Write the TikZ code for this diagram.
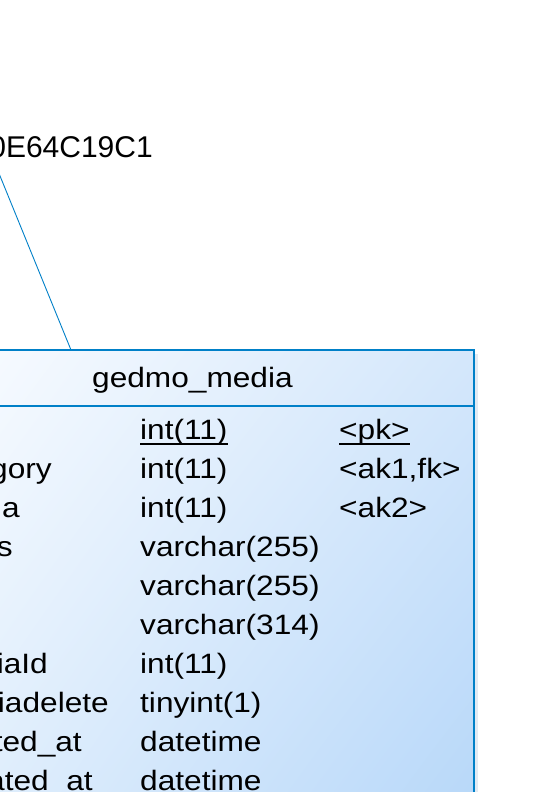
\documentclass[tikz,border=0pt]{standalone}
\usepackage{fontspec}
\setmainfont{Liberation Sans}
\usepackage{graphicx}
\usetikzlibrary{shadings}
\newcommand\tbltext[1]{\scalebox{1.13}[1]{#1}}
\definecolor{edge}{RGB}{0,128,200}
\definecolor{gUL}{RGB}{246,250,255}
\definecolor{gUR}{RGB}{212,231,251}
\definecolor{gLL}{RGB}{222,237,252}
\definecolor{gLR}{RGB}{184,216,249}
\definecolor{shadowc}{RGB}{226,234,243}
\tikzset{
  cell/.style={inner sep=0pt, anchor=base west, font=\fontsize{28}{28}\selectfont},
  cellr/.style={inner sep=0pt, anchor=base east, font=\fontsize{28}{28}\selectfont},
  lbl/.style={inner sep=0pt, anchor=base east, font=\fontsize{30}{30}\selectfont},
  uline/.style={line width=1.6pt},
  conn/.style={draw=edge, line width=0.9pt},
}
\begin{document}
\begin{tikzpicture}[x=1pt,y=-1pt]
\useasboundingbox (0,0) rectangle (543,792);
\clip (0,0) rectangle (543,792);
\fill[white] (0,0) rectangle (543,792);
% shadow
\fill[shadowc] (474,354) rectangle (477.5,800);
% table body
\shade[upper left=gUL, upper right=gUR, lower left=gLL, lower right=gLR] (-2,350) rectangle (474,800);
\draw[edge, line width=1.4pt] (-5,350) -- (474,350) -- (474,800);
\draw[edge, line width=1.4pt] (-5,406) -- (474,406);
\coordinate (top) at (71,350);
\coordinate (far) at (-2,171);
\draw[conn] (far) -- (top);
% label
\node[lbl] (fk) at (153,157) {0E64C19C1};
% header
\node[cell] (title) at (92,387) {\tbltext{gedmo\_media}};
% column 1 (cut)
\node[cellr] (n2) at (52,478) {\tbltext{gory}};
\node[cellr] (n3) at (20,517) {\tbltext{ia}};
\node[cellr] (n4) at (13,556) {\tbltext{s}};
\node[cellr] (n7) at (48,673) {\tbltext{iaId}};
\node[cellr] (n8) at (109,712) {\tbltext{iadelete}};
\node[cellr] (n9) at (82,751) {\tbltext{ted\_at}};
\node[cellr] (n10) at (93,790) {\tbltext{ated\_at}};
% column 2
\node[cell] (t1) at (140,439) {\tbltext{int(11)}};
\node[cell] (t2) at (140,478) {\tbltext{int(11)}};
\node[cell] (t3) at (140,517) {\tbltext{int(11)}};
\node[cell] (t4) at (140,556) {\tbltext{varchar(255)}};
\node[cell] (t5) at (140,595) {\tbltext{varchar(255)}};
\node[cell] (t6) at (140,634) {\tbltext{varchar(314)}};
\node[cell] (t7) at (140,673) {\tbltext{int(11)}};
\node[cell] (t8) at (140,712) {\tbltext{tinyint(1)}};
\node[cell] (t9) at (140,751) {\tbltext{datetime}};
\node[cell] (t10) at (140,790) {\tbltext{datetime}};
% column 3
\node[cell] (k1) at (339,439) {\tbltext{<pk>}};
\node[cell] (k2) at (339,478) {\tbltext{<ak1,fk>}};
\node[cell] (k3) at (339,517) {\tbltext{<ak2>}};
% underlines
\draw[uline] ([yshift=-5pt]t1.base west) -- ([yshift=-5pt]t1.base east);
\draw[uline] ([yshift=-5pt]k1.base west) -- ([yshift=-5pt]k1.base east);
\end{tikzpicture}
\end{document}
